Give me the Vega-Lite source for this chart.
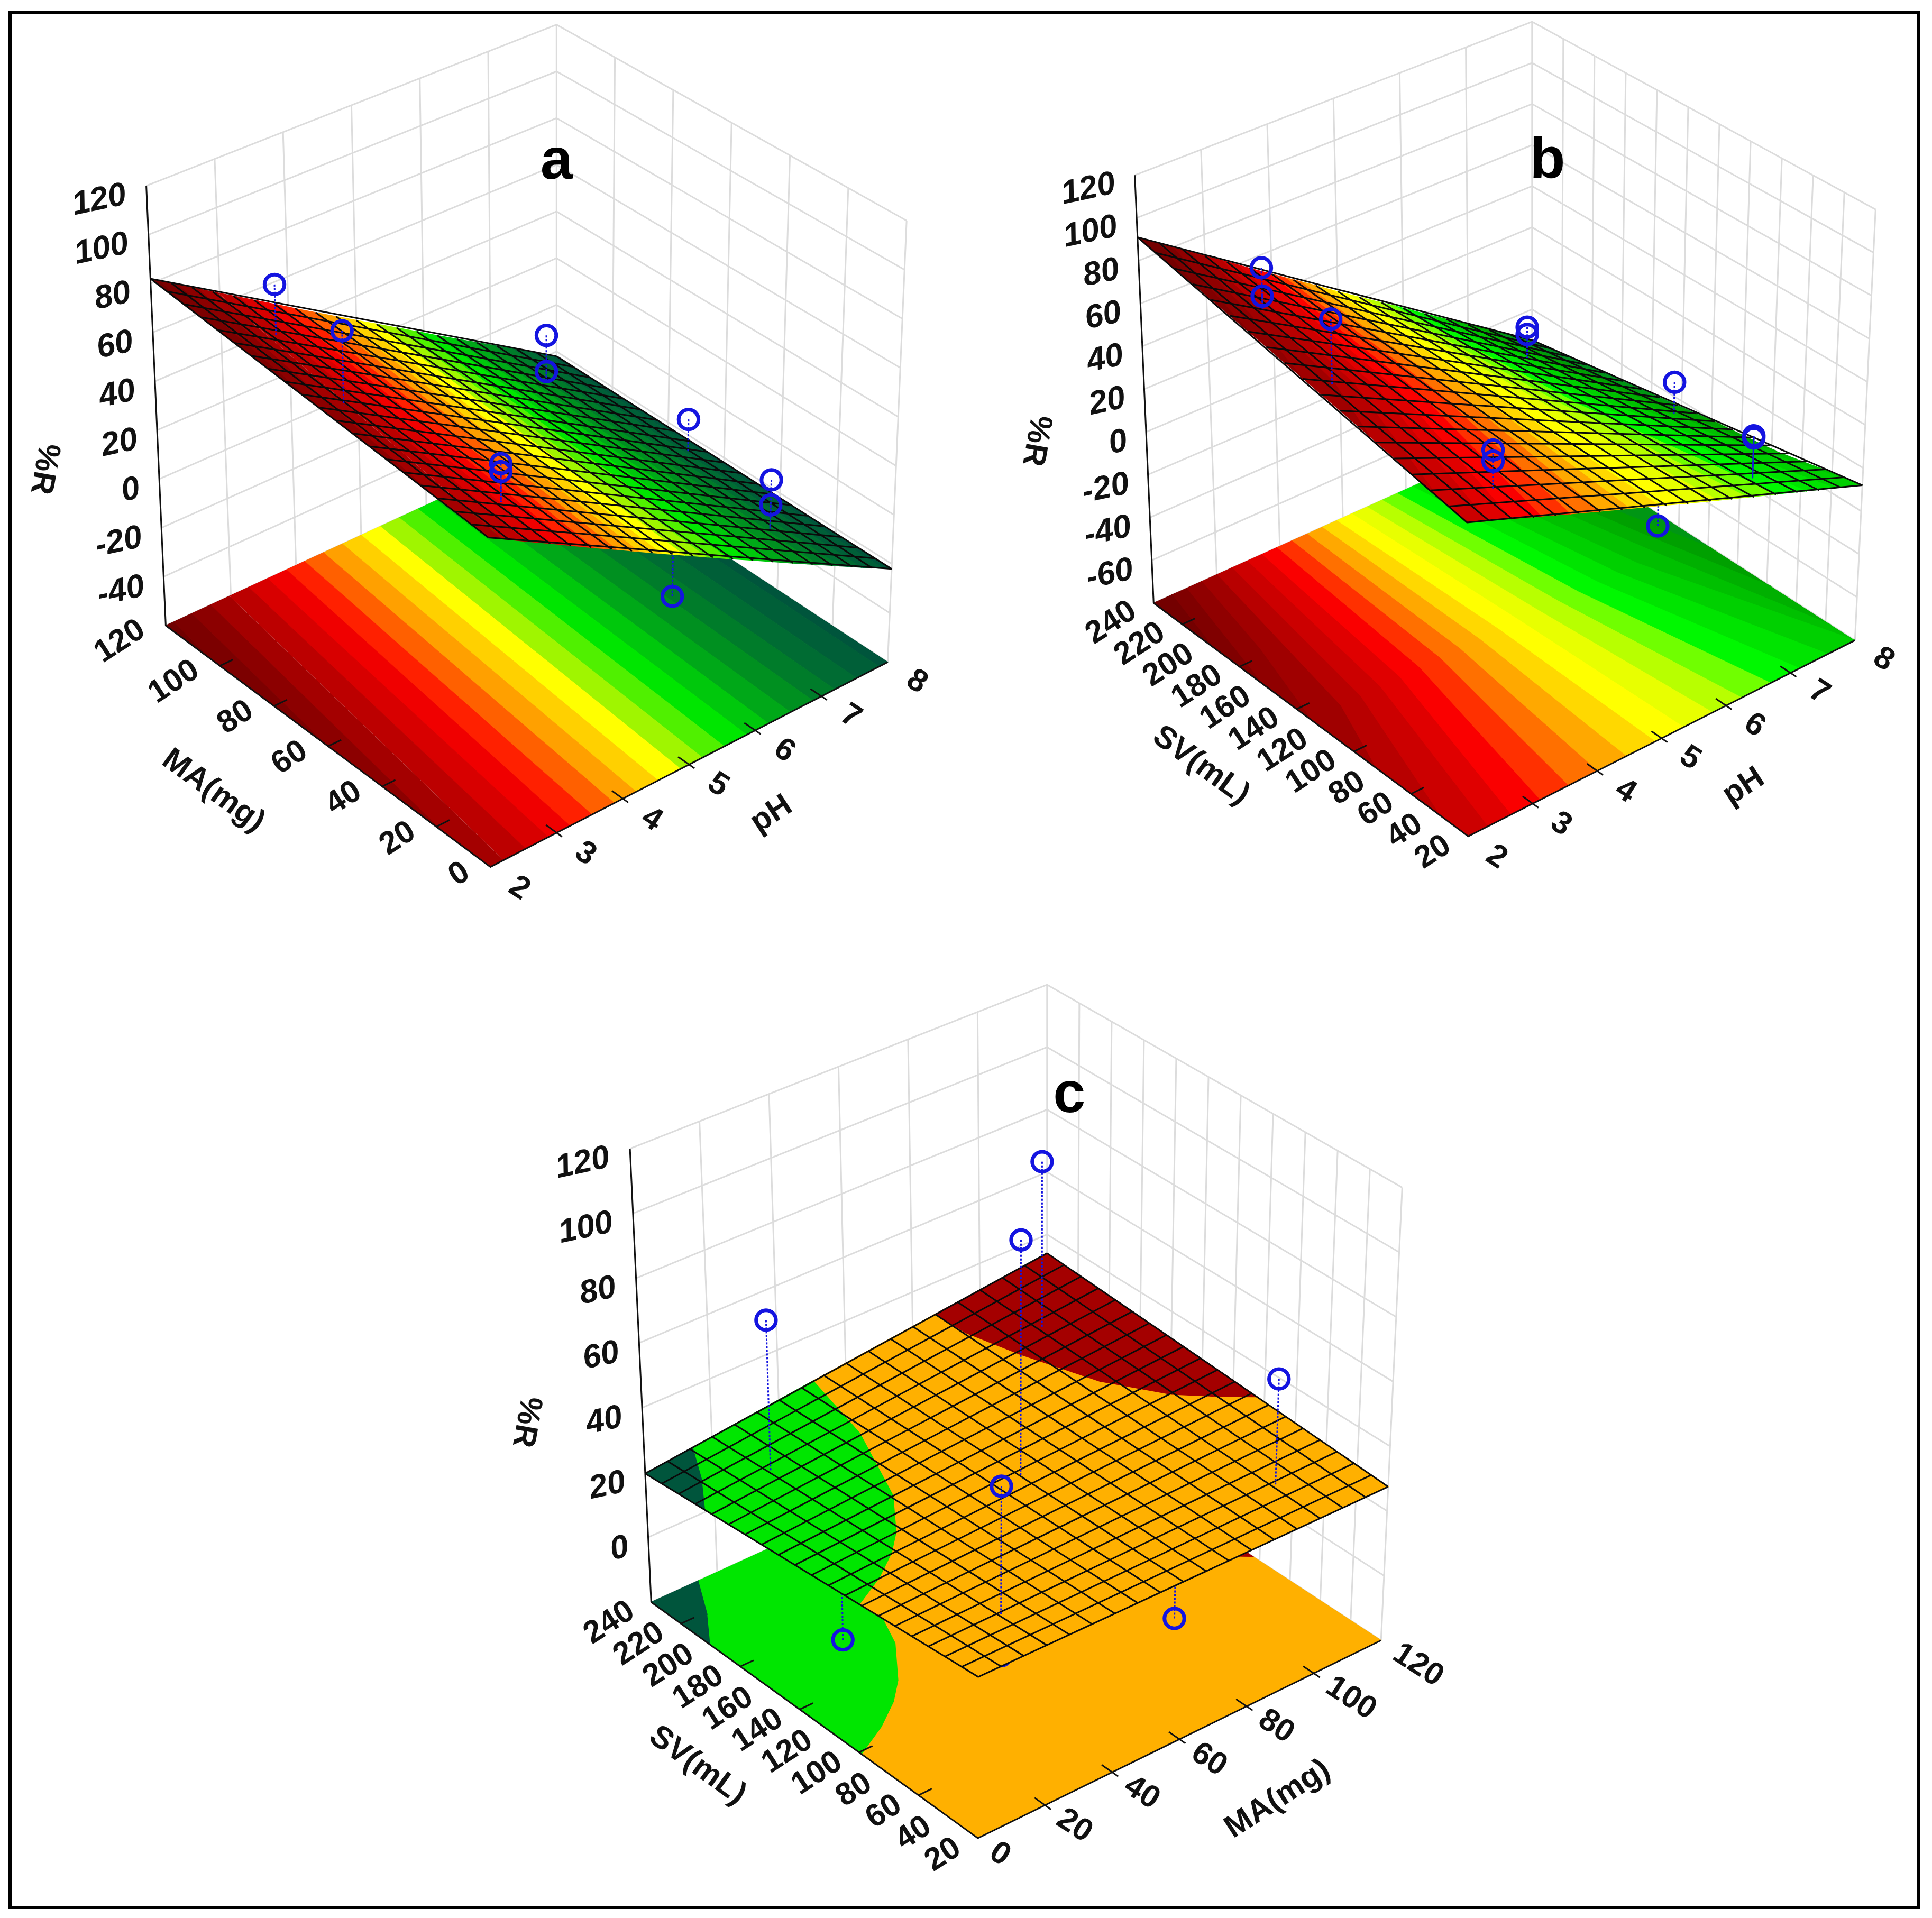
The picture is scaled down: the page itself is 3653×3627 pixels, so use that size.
{"$schema":"https://vega.github.io/schema/vega-lite/v6.json","width":3608,"height":3584,"autosize":"none","padding":{"left":19,"top":23,"right":26,"bottom":20},"background":"white","config":{"view":{"stroke":"black","strokeWidth":6}},
"params":[{"name":"box","value":{"a":{"x":[927.3,1678.4,313.4,1052.3,921.7,1714.2,276.6,1052.3],"y":[1639.4,1252.1,1183,841.4,763.3,417.3,351.4,46.7],"u":[2,8],"v":[0,120],"w":[-60,120]},"b":{"x":[2776.2,3507.3,2181.3,2896.8,2772.9,3546.3,2145.6,2896.8],"y":[1581.4,1210.8,1140.5,818,727.6,396.1,331.3,41.2],"u":[2,8],"v":[20,240],"w":[-80,120]},"c":{"x":[1848.9,2611.2,1231.3,1979.8,1851.2,2651.3,1191.1,1979.8],"y":[3476,3102,3029.7,2688.7,2604.9,2245.6,2172.1,1862.1],"u":[0,120],"v":[20,240],"w":[-20,120]}}}],
"data":{"values":[
{"t":"g","p":"a","i":0,"u":[2,8,8],"v":[120,120,0],"r":[-60,-60,-60]},{"t":"g","p":"a","i":1,"u":[2,8,8],"v":[120,120,0],"r":[-40,-40,-40]},{"t":"g","p":"a","i":2,"u":[2,8,8],"v":[120,120,0],"r":[-20,-20,-20]},{"t":"g","p":"a","i":3,"u":[2,8,8],"v":[120,120,0],"r":[0,0,0]},{"t":"g","p":"a","i":4,"u":[2,8,8],"v":[120,120,0],"r":[20,20,20]},{"t":"g","p":"a","i":5,"u":[2,8,8],"v":[120,120,0],"r":[40,40,40]},{"t":"g","p":"a","i":6,"u":[2,8,8],"v":[120,120,0],"r":[60,60,60]},{"t":"g","p":"a","i":7,"u":[2,8,8],"v":[120,120,0],"r":[80,80,80]},{"t":"g","p":"a","i":8,"u":[2,8,8],"v":[120,120,0],"r":[100,100,100]},{"t":"g","p":"a","i":9,"u":[2,8,8],"v":[120,120,0],"r":[120,120,120]},
{"t":"g","p":"a","i":10,"u":[3,3],"v":[120,120],"r":[-60,120]},{"t":"g","p":"a","i":11,"u":[4,4],"v":[120,120],"r":[-60,120]},{"t":"g","p":"a","i":12,"u":[5,5],"v":[120,120],"r":[-60,120]},{"t":"g","p":"a","i":13,"u":[6,6],"v":[120,120],"r":[-60,120]},{"t":"g","p":"a","i":14,"u":[7,7],"v":[120,120],"r":[-60,120]},{"t":"g","p":"a","i":15,"u":[8,8],"v":[120,120],"r":[-60,120]},{"t":"g","p":"a","i":16,"u":[8,8],"v":[100,100],"r":[-60,120]},{"t":"g","p":"a","i":17,"u":[8,8],"v":[80,80],"r":[-60,120]},{"t":"g","p":"a","i":18,"u":[8,8],"v":[60,60],"r":[-60,120]},{"t":"g","p":"a","i":19,"u":[8,8],"v":[40,40],"r":[-60,120]},{"t":"g","p":"a","i":20,"u":[8,8],"v":[20,20],"r":[-60,120]},{"t":"g","p":"a","i":21,"u":[8,8],"v":[0,0],"r":[-60,120]},
{"t":"g","p":"b","i":0,"u":[2,8,8],"v":[240,240,20],"r":[-80,-80,-80]},{"t":"g","p":"b","i":1,"u":[2,8,8],"v":[240,240,20],"r":[-60,-60,-60]},{"t":"g","p":"b","i":2,"u":[2,8,8],"v":[240,240,20],"r":[-40,-40,-40]},{"t":"g","p":"b","i":3,"u":[2,8,8],"v":[240,240,20],"r":[-20,-20,-20]},{"t":"g","p":"b","i":4,"u":[2,8,8],"v":[240,240,20],"r":[0,0,0]},{"t":"g","p":"b","i":5,"u":[2,8,8],"v":[240,240,20],"r":[20,20,20]},{"t":"g","p":"b","i":6,"u":[2,8,8],"v":[240,240,20],"r":[40,40,40]},{"t":"g","p":"b","i":7,"u":[2,8,8],"v":[240,240,20],"r":[60,60,60]},{"t":"g","p":"b","i":8,"u":[2,8,8],"v":[240,240,20],"r":[80,80,80]},{"t":"g","p":"b","i":9,"u":[2,8,8],"v":[240,240,20],"r":[100,100,100]},{"t":"g","p":"b","i":10,"u":[2,8,8],"v":[240,240,20],"r":[120,120,120]},
{"t":"g","p":"b","i":11,"u":[3,3],"v":[240,240],"r":[-80,120]},{"t":"g","p":"b","i":12,"u":[4,4],"v":[240,240],"r":[-80,120]},{"t":"g","p":"b","i":13,"u":[5,5],"v":[240,240],"r":[-80,120]},{"t":"g","p":"b","i":14,"u":[6,6],"v":[240,240],"r":[-80,120]},{"t":"g","p":"b","i":15,"u":[7,7],"v":[240,240],"r":[-80,120]},{"t":"g","p":"b","i":16,"u":[8,8],"v":[240,240],"r":[-80,120]},{"t":"g","p":"b","i":17,"u":[8,8],"v":[220,220],"r":[-80,120]},{"t":"g","p":"b","i":18,"u":[8,8],"v":[200,200],"r":[-80,120]},{"t":"g","p":"b","i":19,"u":[8,8],"v":[180,180],"r":[-80,120]},{"t":"g","p":"b","i":20,"u":[8,8],"v":[160,160],"r":[-80,120]},{"t":"g","p":"b","i":21,"u":[8,8],"v":[140,140],"r":[-80,120]},{"t":"g","p":"b","i":22,"u":[8,8],"v":[120,120],"r":[-80,120]},{"t":"g","p":"b","i":23,"u":[8,8],"v":[100,100],"r":[-80,120]},{"t":"g","p":"b","i":24,"u":[8,8],"v":[80,80],"r":[-80,120]},{"t":"g","p":"b","i":25,"u":[8,8],"v":[60,60],"r":[-80,120]},{"t":"g","p":"b","i":26,"u":[8,8],"v":[40,40],"r":[-80,120]},{"t":"g","p":"b","i":27,"u":[8,8],"v":[20,20],"r":[-80,120]},
{"t":"g","p":"c","i":0,"u":[0,120,120],"v":[240,240,20],"r":[-20,-20,-20]},{"t":"g","p":"c","i":1,"u":[0,120,120],"v":[240,240,20],"r":[0,0,0]},{"t":"g","p":"c","i":2,"u":[0,120,120],"v":[240,240,20],"r":[20,20,20]},{"t":"g","p":"c","i":3,"u":[0,120,120],"v":[240,240,20],"r":[40,40,40]},{"t":"g","p":"c","i":4,"u":[0,120,120],"v":[240,240,20],"r":[60,60,60]},{"t":"g","p":"c","i":5,"u":[0,120,120],"v":[240,240,20],"r":[80,80,80]},{"t":"g","p":"c","i":6,"u":[0,120,120],"v":[240,240,20],"r":[100,100,100]},{"t":"g","p":"c","i":7,"u":[0,120,120],"v":[240,240,20],"r":[120,120,120]},
{"t":"g","p":"c","i":8,"u":[20,20],"v":[240,240],"r":[-20,120]},{"t":"g","p":"c","i":9,"u":[40,40],"v":[240,240],"r":[-20,120]},{"t":"g","p":"c","i":10,"u":[60,60],"v":[240,240],"r":[-20,120]},{"t":"g","p":"c","i":11,"u":[80,80],"v":[240,240],"r":[-20,120]},{"t":"g","p":"c","i":12,"u":[100,100],"v":[240,240],"r":[-20,120]},{"t":"g","p":"c","i":13,"u":[120,120],"v":[240,240],"r":[-20,120]},{"t":"g","p":"c","i":14,"u":[120,120],"v":[220,220],"r":[-20,120]},{"t":"g","p":"c","i":15,"u":[120,120],"v":[200,200],"r":[-20,120]},{"t":"g","p":"c","i":16,"u":[120,120],"v":[180,180],"r":[-20,120]},{"t":"g","p":"c","i":17,"u":[120,120],"v":[160,160],"r":[-20,120]},{"t":"g","p":"c","i":18,"u":[120,120],"v":[140,140],"r":[-20,120]},{"t":"g","p":"c","i":19,"u":[120,120],"v":[120,120],"r":[-20,120]},{"t":"g","p":"c","i":20,"u":[120,120],"v":[100,100],"r":[-20,120]},{"t":"g","p":"c","i":21,"u":[120,120],"v":[80,80],"r":[-20,120]},{"t":"g","p":"c","i":22,"u":[120,120],"v":[60,60],"r":[-20,120]},{"t":"g","p":"c","i":23,"u":[120,120],"v":[40,40],"r":[-20,120]},{"t":"g","p":"c","i":24,"u":[120,120],"v":[20,20],"r":[-20,120]},
{"t":"a","p":"a","i":0,"u":[2,2],"v":[120,120],"r":[-60,120]},{"t":"a","p":"a","i":1,"u":[2,2,8],"v":[120,0,0],"r":[-60,-60,-60]},{"t":"a","p":"a","i":2,"u":[3,3],"v":[-2,4],"r":[-60,-60]},{"t":"a","p":"a","i":3,"u":[4,4],"v":[-2,4],"r":[-60,-60]},{"t":"a","p":"a","i":4,"u":[5,5],"v":[-2,4],"r":[-60,-60]},{"t":"a","p":"a","i":5,"u":[6,6],"v":[-2,4],"r":[-60,-60]},{"t":"a","p":"a","i":6,"u":[7,7],"v":[-2,4],"r":[-60,-60]},{"t":"a","p":"a","i":7,"u":[2,2.2],"v":[20,20],"r":[-60,-60]},{"t":"a","p":"a","i":8,"u":[2,2.2],"v":[40,40],"r":[-60,-60]},{"t":"a","p":"a","i":9,"u":[2,2.2],"v":[60,60],"r":[-60,-60]},{"t":"a","p":"a","i":10,"u":[2,2.2],"v":[80,80],"r":[-60,-60]},{"t":"a","p":"a","i":11,"u":[2,2.2],"v":[100,100],"r":[-60,-60]},
{"t":"a","p":"b","i":0,"u":[2,2],"v":[240,240],"r":[-80,120]},{"t":"a","p":"b","i":1,"u":[2,2,8],"v":[240,20,20],"r":[-80,-80,-80]},{"t":"a","p":"b","i":2,"u":[3,3],"v":[16,27],"r":[-80,-80]},{"t":"a","p":"b","i":3,"u":[4,4],"v":[16,27],"r":[-80,-80]},{"t":"a","p":"b","i":4,"u":[5,5],"v":[16,27],"r":[-80,-80]},{"t":"a","p":"b","i":5,"u":[6,6],"v":[16,27],"r":[-80,-80]},{"t":"a","p":"b","i":6,"u":[7,7],"v":[16,27],"r":[-80,-80]},{"t":"a","p":"b","i":7,"u":[2,2.2],"v":[60,60],"r":[-80,-80]},{"t":"a","p":"b","i":8,"u":[2,2.2],"v":[100,100],"r":[-80,-80]},{"t":"a","p":"b","i":9,"u":[2,2.2],"v":[140,140],"r":[-80,-80]},{"t":"a","p":"b","i":10,"u":[2,2.2],"v":[180,180],"r":[-80,-80]},{"t":"a","p":"b","i":11,"u":[2,2.2],"v":[220,220],"r":[-80,-80]},
{"t":"a","p":"c","i":0,"u":[0,0],"v":[240,240],"r":[-20,120]},{"t":"a","p":"c","i":1,"u":[0,0,120],"v":[240,20,20],"r":[-20,-20,-20]},{"t":"a","p":"c","i":2,"u":[20,20],"v":[16,27],"r":[-20,-20]},{"t":"a","p":"c","i":3,"u":[40,40],"v":[16,27],"r":[-20,-20]},{"t":"a","p":"c","i":4,"u":[60,60],"v":[16,27],"r":[-20,-20]},{"t":"a","p":"c","i":5,"u":[80,80],"v":[16,27],"r":[-20,-20]},{"t":"a","p":"c","i":6,"u":[100,100],"v":[16,27],"r":[-20,-20]},{"t":"a","p":"c","i":7,"u":[0,4],"v":[60,60],"r":[-20,-20]},{"t":"a","p":"c","i":8,"u":[0,4],"v":[100,100],"r":[-20,-20]},{"t":"a","p":"c","i":9,"u":[0,4],"v":[140,140],"r":[-20,-20]},{"t":"a","p":"c","i":10,"u":[0,4],"v":[180,180],"r":[-20,-20]},{"t":"a","p":"c","i":11,"u":[0,4],"v":[220,220],"r":[-20,-20]},
{"t":"s","p":"a","i":-25,"c":0,"u":[7.87,8,8,7.88],"v":[0,0,120,120],"r":[-20,-22,-22,-20]},{"t":"s","p":"a","i":-20,"c":1,"u":[7.53,7.87,7.88,7.6],"v":[0,0,120,120],"r":[-15,-20,-20,-15]},{"t":"s","p":"a","i":-15,"c":2,"u":[7.2,7.53,7.6,7.31],"v":[0,0,120,120],"r":[-10,-15,-15,-10]},{"t":"s","p":"a","i":-10,"c":3,"u":[6.87,7.2,7.31,7.02],"v":[0,0,120,120],"r":[-5,-10,-10,-5]},{"t":"s","p":"a","i":-5,"c":4,"u":[6.53,6.87,7.02,6.73],"v":[0,0,120,120],"r":[0,-5,-5,0]},{"t":"s","p":"a","i":0,"c":5,"u":[6.2,6.53,6.73,6.44],"v":[0,0,120,120],"r":[5,0,0,5]},{"t":"s","p":"a","i":5,"c":6,"u":[5.87,6.2,6.44,6.15],"v":[0,0,120,120],"r":[10,5,5,10]},{"t":"s","p":"a","i":10,"c":7,"u":[5.53,5.87,6.15,5.87],"v":[0,0,120,120],"r":[15,10,10,15]},{"t":"s","p":"a","i":15,"c":8,"u":[5.2,5.53,5.87,5.58],"v":[0,0,120,120],"r":[20,15,15,20]},{"t":"s","p":"a","i":20,"c":9,"u":[4.87,5.2,5.58,5.29],"v":[0,0,120,120],"r":[25,20,20,25]},{"t":"s","p":"a","i":25,"c":11,"u":[4.53,4.87,5.29,5],"v":[0,0,120,120],"r":[30,25,25,30]},{"t":"s","p":"a","i":30,"c":12,"u":[4.2,4.53,5,4.71],"v":[0,0,120,120],"r":[35,30,30,35]},{"t":"s","p":"a","i":35,"c":13,"u":[3.87,4.2,4.71,4.42],"v":[0,0,120,120],"r":[40,35,35,40]},{"t":"s","p":"a","i":40,"c":14,"u":[3.53,3.87,4.42,4.13],"v":[0,0,120,120],"r":[45,40,40,45]},{"t":"s","p":"a","i":45,"c":15,"u":[3.2,3.53,4.13,3.85],"v":[0,0,120,120],"r":[50,45,45,50]},{"t":"s","p":"a","i":50,"c":16,"u":[2.87,3.2,3.85,3.56],"v":[0,0,120,120],"r":[55,50,50,55]},{"t":"s","p":"a","i":55,"c":17,"u":[2.53,2.87,3.56,3.27],"v":[0,0,120,120],"r":[60,55,55,60]},{"t":"s","p":"a","i":60,"c":18,"u":[2.2,2.53,3.27,2.98],"v":[0,0,120,120],"r":[65,60,60,65]},{"t":"s","p":"a","i":65,"c":19,"u":[2.2,2,2,2.69,2.98],"v":[0,0,17.1,120,120],"r":[65,68,70,70,65]},{"t":"s","p":"a","i":70,"c":20,"u":[2,2,2.4,2.69],"v":[17.1,60,120,120],"r":[70,75,75,70]},{"t":"s","p":"a","i":75,"c":21,"u":[2,2,2.12,2.4],"v":[60,102.9,120,120],"r":[75,80,80,75]},{"t":"s","p":"a","i":80,"c":22,"u":[2,2,2.12],"v":[102.9,120,120],"r":[80,82,80]},
{"t":"s","p":"b","i":-35,"c":30,"u":[8,7.76,8],"v":[199.3,240,240],"r":[-30,-30,-35]},{"t":"s","p":"b","i":-30,"c":31,"u":[8,7.76,7.52,7.76,8],"v":[158.6,196,240,240,199.3],"r":[-25,-25,-25,-30,-30]},{"t":"s","p":"b","i":-25,"c":32,"u":[8,7.62,7.29,7.52,7.76,8],"v":[117.8,174,240,240,196,158.6],"r":[-20,-20,-20,-25,-25,-25]},{"t":"s","p":"b","i":-20,"c":33,"u":[8,7.54,7.05,7.29,7.62,8],"v":[77,152,240,240,174,117.8],"r":[-16.3,-16.3,-15,-20,-20,-20]},{"t":"s","p":"b","i":-15,"c":34,"u":[8,7.44,6.81,7.05,7.54,8],"v":[36.3,130,240,240,152,77],"r":[-10,-12.5,-10,-15,-16.3,-16.3]},{"t":"s","p":"b","i":-10,"c":35,"u":[8,7.12,6.57,6.81,7.44,8],"v":[20,130,240,240,130,36.3],"r":[-8,-7.3,-5,-10,-12.5,-10]},{"t":"s","p":"b","i":-5,"c":36,"u":[7.58,6.81,6.33,6.57,7.12,8],"v":[20,130,240,240,130,20],"r":[-3.35,-2.4,0,-5,-7.3,-8]},{"t":"s","p":"b","i":0,"c":37,"u":[7.14,6.5,6.1,6.33,6.81,7.58],"v":[20,130,240,240,130,20],"r":[1.65,2.6,5,0,-2.4,-3.35]},{"t":"s","p":"b","i":5,"c":38,"u":[6.69,6.19,5.86,6.1,6.5,7.14],"v":[20,130,240,240,130,20],"r":[6.65,7.6,10,5,2.6,1.65]},{"t":"s","p":"b","i":10,"c":39,"u":[6.24,5.88,5.62,5.86,6.19,6.69],"v":[20,130,240,240,130,20],"r":[11.65,12.6,15,10,7.6,6.65]},{"t":"s","p":"b","i":15,"c":40,"u":[5.79,5.57,5.38,5.62,5.88,6.24],"v":[20,130,240,240,130,20],"r":[16.65,17.6,20,15,12.6,11.65]},{"t":"s","p":"b","i":20,"c":41,"u":[5.34,5.26,5.14,5.38,5.57,5.79],"v":[20,130,240,240,130,20],"r":[21.65,22.6,25,20,17.6,16.65]},{"t":"s","p":"b","i":25,"c":11,"u":[4.9,4.95,4.9,5.14,5.26,5.34],"v":[20,130,240,240,130,20],"r":[26.65,27.6,30,25,22.6,21.65]},{"t":"s","p":"b","i":30,"c":42,"u":[4.45,4.64,4.67,4.9,4.95,4.9],"v":[20,130,240,240,130,20],"r":[31.65,32.6,35,30,27.6,26.65]},{"t":"s","p":"b","i":35,"c":43,"u":[4,4.33,4.43,4.67,4.64,4.45],"v":[20,130,240,240,130,20],"r":[36.65,37.6,40,35,32.6,31.65]},{"t":"s","p":"b","i":40,"c":44,"u":[3.55,4.02,4.19,4.43,4.33,4],"v":[20,130,240,240,130,20],"r":[41.65,42.6,45,40,37.6,36.65]},{"t":"s","p":"b","i":45,"c":45,"u":[3.11,3.7,3.95,4.19,4.02,3.55],"v":[20,130,240,240,130,20],"r":[46.65,47.6,50,45,42.6,41.65]},{"t":"s","p":"b","i":50,"c":46,"u":[2.66,3.39,3.71,3.95,3.7,3.11],"v":[20,130,240,240,130,20],"r":[51.65,52.6,55,50,47.6,46.65]},{"t":"s","p":"b","i":55,"c":47,"u":[2.3,3.08,3.48,3.71,3.39,2.66],"v":[20,130,240,240,130,20],"r":[55.65,57.6,60,55,52.6,51.65]},{"t":"s","p":"b","i":60,"c":48,"u":[2,2.77,3.24,3.48,3.08,2.3,2],"v":[40,130,240,240,130,20,20],"r":[61.9,62.6,65,60,57.6,55.65,59]},{"t":"s","p":"b","i":65,"c":49,"u":[2,2.46,3,3.24,2.77,2],"v":[85,130,240,240,130,40],"r":[68.5,67.6,70,65,62.6,61.9]},{"t":"s","p":"b","i":70,"c":50,"u":[2,2.43,2.76,3,2.46,2],"v":[130,185,240,240,130,85],"r":[75,75,75,70,67.6,68.5]},{"t":"s","p":"b","i":75,"c":51,"u":[2,2.52,2.76,2.43,2],"v":[164.4,240,240,185,130],"r":[80,80,75,75,75]},{"t":"s","p":"b","i":80,"c":52,"u":[2,2.29,2.52,2],"v":[198.8,240,240,164.4],"r":[85,85,80,80]},{"t":"s","p":"b","i":85,"c":53,"u":[2,2.05,2.29,2],"v":[233,240,240,198.8],"r":[90,90,85,85]},{"t":"s","p":"b","i":90,"c":54,"u":[2,2.05,2],"v":[240,240,233],"r":[91,90,90]},
{"t":"s","p":"c","i":0,"c":0,"u":[0,14.3,7.2,0],"v":[240,240,218,200],"r":[19.7,21.4,21.4,21.4]},{"t":"s","p":"c","i":1,"c":7,"u":[14.3,50.4,44.6,34.3,25.3,19,10.4,0,0,7.2],"v":[240,240,196,152,130,119,108,98,200,218],"r":[21.4,25.7,25.7,25.7,25.7,25.7,25.7,25.7,21.4,21.4]},{"t":"s","p":"c","i":2,"c":23,"u":[50.4,86.6,86.9,90.6,97.2,106,113.9,120,120,0,0,10.4,19,25.3,34.3,44.6],"v":[240,240,221.5,193.8,156.4,129.3,114.6,104.5,20,20,98,108,119,130,152,196],"r":[25.7,30,30,30,30,30,30,30,27.5,29,25.7,25.7,25.7,25.7,25.7,25.7]},{"t":"s","p":"c","i":3,"c":19,"u":[86.6,120,120,113.9,106,97.2,90.6,86.9],"v":[240,240,104.5,114.6,129.3,156.4,193.8,221.5],"r":[30,34,30,30,30,30,30,30]},
{"t":"m","p":"a","i":0,"u":[2,2],"v":[0,120],"r":[68,82]},{"t":"m","p":"a","i":1,"u":[2.3,2.3],"v":[0,120],"r":[63.5,76.8]},{"t":"m","p":"a","i":2,"u":[2.6,2.6],"v":[0,120],"r":[59,71.6]},{"t":"m","p":"a","i":3,"u":[2.9,2.9],"v":[0,120],"r":[54.5,66.4]},{"t":"m","p":"a","i":4,"u":[3.2,3.2],"v":[0,120],"r":[50,61.2]},{"t":"m","p":"a","i":5,"u":[3.5,3.5],"v":[0,120],"r":[45.5,56]},{"t":"m","p":"a","i":6,"u":[3.8,3.8],"v":[0,120],"r":[41,50.8]},{"t":"m","p":"a","i":7,"u":[4.1,4.1],"v":[0,120],"r":[36.5,45.6]},{"t":"m","p":"a","i":8,"u":[4.4,4.4],"v":[0,120],"r":[32,40.4]},{"t":"m","p":"a","i":9,"u":[4.7,4.7],"v":[0,120],"r":[27.5,35.2]},{"t":"m","p":"a","i":10,"u":[5,5],"v":[0,120],"r":[23,30]},{"t":"m","p":"a","i":11,"u":[5.3,5.3],"v":[0,120],"r":[18.5,24.8]},{"t":"m","p":"a","i":12,"u":[5.6,5.6],"v":[0,120],"r":[14,19.6]},{"t":"m","p":"a","i":13,"u":[5.9,5.9],"v":[0,120],"r":[9.5,14.4]},{"t":"m","p":"a","i":14,"u":[6.2,6.2],"v":[0,120],"r":[5,9.2]},{"t":"m","p":"a","i":15,"u":[6.5,6.5],"v":[0,120],"r":[0.5,4]},{"t":"m","p":"a","i":16,"u":[6.8,6.8],"v":[0,120],"r":[-4,-1.2]},{"t":"m","p":"a","i":17,"u":[7.1,7.1],"v":[0,120],"r":[-8.5,-6.4]},{"t":"m","p":"a","i":18,"u":[7.4,7.4],"v":[0,120],"r":[-13,-11.6]},{"t":"m","p":"a","i":19,"u":[7.7,7.7],"v":[0,120],"r":[-17.5,-16.8]},{"t":"m","p":"a","i":20,"u":[8,8],"v":[0,120],"r":[-22,-22]},
{"t":"m","p":"a","i":100,"u":[2,8],"v":[0,0],"r":[68,-22]},{"t":"m","p":"a","i":101,"u":[2,8],"v":[6,6],"r":[68.7,-22]},{"t":"m","p":"a","i":102,"u":[2,8],"v":[12,12],"r":[69.4,-22]},{"t":"m","p":"a","i":103,"u":[2,8],"v":[18,18],"r":[70.1,-22]},{"t":"m","p":"a","i":104,"u":[2,8],"v":[24,24],"r":[70.8,-22]},{"t":"m","p":"a","i":105,"u":[2,8],"v":[30,30],"r":[71.5,-22]},{"t":"m","p":"a","i":106,"u":[2,8],"v":[36,36],"r":[72.2,-22]},{"t":"m","p":"a","i":107,"u":[2,8],"v":[42,42],"r":[72.9,-22]},{"t":"m","p":"a","i":108,"u":[2,8],"v":[48,48],"r":[73.6,-22]},{"t":"m","p":"a","i":109,"u":[2,8],"v":[54,54],"r":[74.3,-22]},{"t":"m","p":"a","i":110,"u":[2,8],"v":[60,60],"r":[75,-22]},{"t":"m","p":"a","i":111,"u":[2,8],"v":[66,66],"r":[75.7,-22]},{"t":"m","p":"a","i":112,"u":[2,8],"v":[72,72],"r":[76.4,-22]},{"t":"m","p":"a","i":113,"u":[2,8],"v":[78,78],"r":[77.1,-22]},{"t":"m","p":"a","i":114,"u":[2,8],"v":[84,84],"r":[77.8,-22]},{"t":"m","p":"a","i":115,"u":[2,8],"v":[90,90],"r":[78.5,-22]},{"t":"m","p":"a","i":116,"u":[2,8],"v":[96,96],"r":[79.2,-22]},{"t":"m","p":"a","i":117,"u":[2,8],"v":[102,102],"r":[79.9,-22]},{"t":"m","p":"a","i":118,"u":[2,8],"v":[108,108],"r":[80.6,-22]},{"t":"m","p":"a","i":119,"u":[2,8],"v":[114,114],"r":[81.3,-22]},{"t":"m","p":"a","i":120,"u":[2,8],"v":[120,120],"r":[82,-22]},
{"t":"m","p":"b","i":0,"u":[2,2],"v":[20,240],"r":[59,91]},{"t":"m","p":"b","i":1,"u":[2.33,2.33],"v":[20,240],"r":[55.3,84]},{"t":"m","p":"b","i":2,"u":[2.67,2.67],"v":[20,240],"r":[51.6,77]},{"t":"m","p":"b","i":3,"u":[3,3],"v":[20,240],"r":[47.8,70]},{"t":"m","p":"b","i":4,"u":[3.33,3.33],"v":[20,240],"r":[44.1,63]},{"t":"m","p":"b","i":5,"u":[3.67,3.67],"v":[20,240],"r":[40.4,56]},{"t":"m","p":"b","i":6,"u":[4,4],"v":[20,240],"r":[36.7,49]},{"t":"m","p":"b","i":7,"u":[4.33,4.33],"v":[20,240],"r":[32.9,42]},{"t":"m","p":"b","i":8,"u":[4.67,4.67],"v":[20,240],"r":[29.2,35]},{"t":"m","p":"b","i":9,"u":[5,5],"v":[20,240],"r":[25.5,28]},{"t":"m","p":"b","i":10,"u":[5.33,5.33],"v":[20,240],"r":[21.8,21]},{"t":"m","p":"b","i":11,"u":[5.67,5.67],"v":[20,240],"r":[18.1,14]},{"t":"m","p":"b","i":12,"u":[6,6],"v":[20,240],"r":[14.3,7]},{"t":"m","p":"b","i":13,"u":[6.33,6.33],"v":[20,240],"r":[10.6,0]},{"t":"m","p":"b","i":14,"u":[6.67,6.67],"v":[20,240],"r":[6.9,-7]},{"t":"m","p":"b","i":15,"u":[7,7],"v":[20,240],"r":[3.2,-14]},{"t":"m","p":"b","i":16,"u":[7.33,7.33],"v":[20,240],"r":[-0.6,-21]},{"t":"m","p":"b","i":17,"u":[7.67,7.67],"v":[20,240],"r":[-4.3,-28]},{"t":"m","p":"b","i":18,"u":[8,8],"v":[20,240],"r":[-8,-35]},
{"t":"m","p":"b","i":100,"u":[2,8],"v":[20,20],"r":[59,-8]},{"t":"m","p":"b","i":101,"u":[2,8],"v":[32.2,32.2],"r":[60.8,-9.5]},{"t":"m","p":"b","i":102,"u":[2,8],"v":[44.4,44.4],"r":[62.6,-11]},{"t":"m","p":"b","i":103,"u":[2,8],"v":[56.7,56.7],"r":[64.3,-12.5]},{"t":"m","p":"b","i":104,"u":[2,8],"v":[68.9,68.9],"r":[66.1,-14]},{"t":"m","p":"b","i":105,"u":[2,8],"v":[81.1,81.1],"r":[67.9,-15.5]},{"t":"m","p":"b","i":106,"u":[2,8],"v":[93.3,93.3],"r":[69.7,-17]},{"t":"m","p":"b","i":107,"u":[2,8],"v":[105.6,105.6],"r":[71.4,-18.5]},{"t":"m","p":"b","i":108,"u":[2,8],"v":[117.8,117.8],"r":[73.2,-20]},{"t":"m","p":"b","i":109,"u":[2,8],"v":[130,130],"r":[75,-21.5]},{"t":"m","p":"b","i":110,"u":[2,8],"v":[142.2,142.2],"r":[76.8,-23]},{"t":"m","p":"b","i":111,"u":[2,8],"v":[154.4,154.4],"r":[78.6,-24.5]},{"t":"m","p":"b","i":112,"u":[2,8],"v":[166.7,166.7],"r":[80.3,-26]},{"t":"m","p":"b","i":113,"u":[2,8],"v":[178.9,178.9],"r":[82.1,-27.5]},{"t":"m","p":"b","i":114,"u":[2,8],"v":[191.1,191.1],"r":[83.9,-29]},{"t":"m","p":"b","i":115,"u":[2,8],"v":[203.3,203.3],"r":[85.7,-30.5]},{"t":"m","p":"b","i":116,"u":[2,8],"v":[215.6,215.6],"r":[87.4,-32]},{"t":"m","p":"b","i":117,"u":[2,8],"v":[227.8,227.8],"r":[89.2,-33.5]},{"t":"m","p":"b","i":118,"u":[2,8],"v":[240,240],"r":[91,-35]},
{"t":"m","p":"c","i":0,"u":[0,0],"v":[20,240],"r":[29,19.7]},{"t":"m","p":"c","i":1,"u":[6.67,6.67],"v":[20,240],"r":[28.9,20.5]},{"t":"m","p":"c","i":2,"u":[13.33,13.33],"v":[20,240],"r":[28.8,21.3]},{"t":"m","p":"c","i":3,"u":[20,20],"v":[20,240],"r":[28.8,22.1]},{"t":"m","p":"c","i":4,"u":[26.67,26.67],"v":[20,240],"r":[28.7,22.9]},{"t":"m","p":"c","i":5,"u":[33.33,33.33],"v":[20,240],"r":[28.6,23.7]},{"t":"m","p":"c","i":6,"u":[40,40],"v":[20,240],"r":[28.5,24.5]},{"t":"m","p":"c","i":7,"u":[46.67,46.67],"v":[20,240],"r":[28.4,25.3]},{"t":"m","p":"c","i":8,"u":[53.33,53.33],"v":[20,240],"r":[28.3,26.1]},{"t":"m","p":"c","i":9,"u":[60,60],"v":[20,240],"r":[28.3,26.9]},{"t":"m","p":"c","i":10,"u":[66.67,66.67],"v":[20,240],"r":[28.2,27.6]},{"t":"m","p":"c","i":11,"u":[73.33,73.33],"v":[20,240],"r":[28.1,28.4]},{"t":"m","p":"c","i":12,"u":[80,80],"v":[20,240],"r":[28,29.2]},{"t":"m","p":"c","i":13,"u":[86.67,86.67],"v":[20,240],"r":[27.9,30]},{"t":"m","p":"c","i":14,"u":[93.33,93.33],"v":[20,240],"r":[27.8,30.8]},{"t":"m","p":"c","i":15,"u":[100,100],"v":[20,240],"r":[27.8,31.6]},{"t":"m","p":"c","i":16,"u":[106.67,106.67],"v":[20,240],"r":[27.7,32.4]},{"t":"m","p":"c","i":17,"u":[113.33,113.33],"v":[20,240],"r":[27.6,33.2]},{"t":"m","p":"c","i":18,"u":[120,120],"v":[20,240],"r":[27.5,34]},
{"t":"m","p":"c","i":100,"u":[0,120],"v":[20,20],"r":[29,27.5]},{"t":"m","p":"c","i":101,"u":[0,120],"v":[31,31],"r":[28.5,27.8]},{"t":"m","p":"c","i":102,"u":[0,120],"v":[42,42],"r":[28.1,28.2]},{"t":"m","p":"c","i":103,"u":[0,120],"v":[53,53],"r":[27.6,28.5]},{"t":"m","p":"c","i":104,"u":[0,120],"v":[64,64],"r":[27.1,28.8]},{"t":"m","p":"c","i":105,"u":[0,120],"v":[75,75],"r":[26.7,29.1]},{"t":"m","p":"c","i":106,"u":[0,120],"v":[86,86],"r":[26.2,29.5]},{"t":"m","p":"c","i":107,"u":[0,120],"v":[97,97],"r":[25.7,29.8]},{"t":"m","p":"c","i":108,"u":[0,120],"v":[108,108],"r":[25.3,30.1]},{"t":"m","p":"c","i":109,"u":[0,120],"v":[119,119],"r":[24.8,30.4]},{"t":"m","p":"c","i":110,"u":[0,120],"v":[130,130],"r":[24.4,30.8]},{"t":"m","p":"c","i":111,"u":[0,120],"v":[141,141],"r":[23.9,31.1]},{"t":"m","p":"c","i":112,"u":[0,120],"v":[152,152],"r":[23.4,31.4]},{"t":"m","p":"c","i":113,"u":[0,120],"v":[163,163],"r":[23,31.7]},{"t":"m","p":"c","i":114,"u":[0,120],"v":[174,174],"r":[22.5,32.1]},{"t":"m","p":"c","i":115,"u":[0,120],"v":[185,185],"r":[22,32.4]},{"t":"m","p":"c","i":116,"u":[0,120],"v":[196,196],"r":[21.6,32.7]},{"t":"m","p":"c","i":117,"u":[0,120],"v":[207,207],"r":[21.1,33]},{"t":"m","p":"c","i":118,"u":[0,120],"v":[218,218],"r":[20.6,33.4]},{"t":"m","p":"c","i":119,"u":[0,120],"v":[229,229],"r":[20.2,33.7]},{"t":"m","p":"c","i":120,"u":[0,120],"v":[240,240],"r":[19.7,34]},
{"t":"d","p":"a","u":[3],"v":[100],"r":[83.3],"s":62.7},{"t":"d","p":"a","u":[2.47],"v":[63],"r":[98],"s":68.2},{"t":"d","p":"a","u":[7],"v":[100],"r":[14.4],"s":-5},{"t":"d","p":"a","u":[7],"v":[100],"r":[-0.8],"s":-5},{"t":"d","p":"a","u":[7.62],"v":[64],"r":[-2],"s":-15.8},{"t":"d","p":"a","u":[7],"v":[20],"r":[13.2],"s":-6.6},{"t":"d","p":"a","u":[7],"v":[20],"r":[3],"s":-6.6},{"t":"d","p":"a","u":[3],"v":[20],"r":[70.2],"s":55},{"t":"d","p":"a","u":[3],"v":[20],"r":[67],"s":55},{"t":"d","p":"a","u":[4.79],"v":[2],"r":[8.2],"s":27},
{"t":"d","p":"b","u":[2.85],"v":[195],"r":[86.5],"s":67.5},{"t":"d","p":"b","u":[2.85],"v":[195],"r":[73.3],"s":67.5},{"t":"d","p":"b","u":[2.38],"v":[127.6],"r":[98.5],"s":68.5},{"t":"d","p":"b","u":[6.9],"v":[196],"r":[5.7],"s":-9},{"t":"d","p":"b","u":[6.9],"v":[196],"r":[2.2],"s":-9},{"t":"d","p":"b","u":[7.6],"v":[128],"r":[-0.3],"s":-15.5},{"t":"d","p":"b","u":[6.77],"v":[40],"r":[24],"s":4.4},{"t":"d","p":"b","u":[6.77],"v":[40],"r":[23],"s":4.4},{"t":"d","p":"b","u":[2.9],"v":[43],"r":[69.3],"s":51.5},{"t":"d","p":"b","u":[2.9],"v":[43],"r":[64.3],"s":51.5},{"t":"d","p":"b","u":[5.01],"v":[26],"r":[13.5],"s":25.6},
{"t":"d","p":"c","u":[101],"v":[202],"r":[83.5],"s":31},{"t":"d","p":"c","u":[60.4],"v":[126.8],"r":[100.5],"s":27.6},{"t":"d","p":"c","u":[20.6],"v":[202.6],"r":[70],"s":23.3},{"t":"d","p":"c","u":[101],"v":[51],"r":[61],"s":28.3},{"t":"d","p":"c","u":[20.4],"v":[50.8],"r":[67.3],"s":27.8},{"t":"d","p":"c","u":[59],"v":[23],"r":[16.6],"s":28.3},{"t":"d","p":"c","u":[1],"v":[112],"r":[10],"s":25},{"t":"d","p":"c","u":[20.4],"v":[50.8],"r":[15.5],"s":27.8},
{"t":"ul","p":"a","l":"2","u":[2],"v":[-8],"r":[-60]},{"t":"ul","p":"a","l":"3","u":[3],"v":[-8],"r":[-60]},{"t":"ul","p":"a","l":"4","u":[4],"v":[-8],"r":[-60]},{"t":"ul","p":"a","l":"5","u":[5],"v":[-8],"r":[-60]},{"t":"ul","p":"a","l":"6","u":[6],"v":[-8],"r":[-60]},{"t":"ul","p":"a","l":"7","u":[7],"v":[-8],"r":[-60]},{"t":"ul","p":"a","l":"8","u":[8],"v":[-8],"r":[-60]},
{"t":"ul","p":"b","l":"2","u":[2],"v":[5.3],"r":[-80]},{"t":"ul","p":"b","l":"3","u":[3],"v":[5.3],"r":[-80]},{"t":"ul","p":"b","l":"4","u":[4],"v":[5.3],"r":[-80]},{"t":"ul","p":"b","l":"5","u":[5],"v":[5.3],"r":[-80]},{"t":"ul","p":"b","l":"6","u":[6],"v":[5.3],"r":[-80]},{"t":"ul","p":"b","l":"7","u":[7],"v":[5.3],"r":[-80]},{"t":"ul","p":"b","l":"8","u":[8],"v":[5.3],"r":[-80]},
{"t":"ul","p":"c","l":"0","u":[0],"v":[10],"r":[-20]},{"t":"ul","p":"c","l":"20","u":[20],"v":[10],"r":[-20]},{"t":"ul","p":"c","l":"40","u":[40],"v":[10],"r":[-20]},{"t":"ul","p":"c","l":"60","u":[60],"v":[10],"r":[-20]},{"t":"ul","p":"c","l":"80","u":[80],"v":[10],"r":[-20]},{"t":"ul","p":"c","l":"100","u":[100],"v":[10],"r":[-20]},{"t":"ul","p":"c","l":"120","u":[120],"v":[10],"r":[-20]},
{"t":"vl","p":"a","l":"0","u":[1.64],"v":[0],"r":[-56]},{"t":"vl","p":"a","l":"20","u":[1.64],"v":[20],"r":[-56]},{"t":"vl","p":"a","l":"40","u":[1.64],"v":[40],"r":[-56]},{"t":"vl","p":"a","l":"60","u":[1.64],"v":[60],"r":[-56]},{"t":"vl","p":"a","l":"80","u":[1.64],"v":[80],"r":[-56]},{"t":"vl","p":"a","l":"100","u":[1.64],"v":[100],"r":[-56]},{"t":"vl","p":"a","l":"120","u":[1.64],"v":[120],"r":[-56]},
{"t":"vl","p":"b","l":"20","u":[1.68],"v":[20],"r":[-78]},{"t":"vl","p":"b","l":"40","u":[1.68],"v":[40],"r":[-78]},{"t":"vl","p":"b","l":"60","u":[1.68],"v":[60],"r":[-78]},{"t":"vl","p":"b","l":"80","u":[1.68],"v":[80],"r":[-78]},{"t":"vl","p":"b","l":"100","u":[1.68],"v":[100],"r":[-78]},{"t":"vl","p":"b","l":"120","u":[1.68],"v":[120],"r":[-78]},{"t":"vl","p":"b","l":"140","u":[1.68],"v":[140],"r":[-78]},{"t":"vl","p":"b","l":"160","u":[1.68],"v":[160],"r":[-78]},{"t":"vl","p":"b","l":"180","u":[1.68],"v":[180],"r":[-78]},{"t":"vl","p":"b","l":"200","u":[1.68],"v":[200],"r":[-78]},{"t":"vl","p":"b","l":"220","u":[1.68],"v":[220],"r":[-78]},{"t":"vl","p":"b","l":"240","u":[1.68],"v":[240],"r":[-78]},
{"t":"vl","p":"c","l":"20","u":[-6],"v":[20],"r":[-19]},{"t":"vl","p":"c","l":"40","u":[-6],"v":[40],"r":[-19]},{"t":"vl","p":"c","l":"60","u":[-6],"v":[60],"r":[-19]},{"t":"vl","p":"c","l":"80","u":[-6],"v":[80],"r":[-19]},{"t":"vl","p":"c","l":"100","u":[-6],"v":[100],"r":[-19]},{"t":"vl","p":"c","l":"120","u":[-6],"v":[120],"r":[-19]},{"t":"vl","p":"c","l":"140","u":[-6],"v":[140],"r":[-19]},{"t":"vl","p":"c","l":"160","u":[-6],"v":[160],"r":[-19]},{"t":"vl","p":"c","l":"180","u":[-6],"v":[180],"r":[-19]},{"t":"vl","p":"c","l":"200","u":[-6],"v":[200],"r":[-19]},{"t":"vl","p":"c","l":"220","u":[-6],"v":[220],"r":[-19]},{"t":"vl","p":"c","l":"240","u":[-6],"v":[240],"r":[-19]},
{"t":"zl","p":"a","l":"-40","u":[1.7],"v":[120],"r":[-40]},{"t":"zl","p":"a","l":"-20","u":[1.7],"v":[120],"r":[-20]},{"t":"zl","p":"a","l":"0","u":[1.7],"v":[120],"r":[0]},{"t":"zl","p":"a","l":"20","u":[1.7],"v":[120],"r":[20]},{"t":"zl","p":"a","l":"40","u":[1.7],"v":[120],"r":[40]},{"t":"zl","p":"a","l":"60","u":[1.7],"v":[120],"r":[60]},{"t":"zl","p":"a","l":"80","u":[1.7],"v":[120],"r":[80]},{"t":"zl","p":"a","l":"100","u":[1.7],"v":[120],"r":[100]},{"t":"zl","p":"a","l":"120","u":[1.7],"v":[120],"r":[120]},
{"t":"zl","p":"b","l":"-60","u":[1.7],"v":[240],"r":[-60]},{"t":"zl","p":"b","l":"-40","u":[1.7],"v":[240],"r":[-40]},{"t":"zl","p":"b","l":"-20","u":[1.7],"v":[240],"r":[-20]},{"t":"zl","p":"b","l":"0","u":[1.7],"v":[240],"r":[0]},{"t":"zl","p":"b","l":"20","u":[1.7],"v":[240],"r":[20]},{"t":"zl","p":"b","l":"40","u":[1.7],"v":[240],"r":[40]},{"t":"zl","p":"b","l":"60","u":[1.7],"v":[240],"r":[60]},{"t":"zl","p":"b","l":"80","u":[1.7],"v":[240],"r":[80]},{"t":"zl","p":"b","l":"100","u":[1.7],"v":[240],"r":[100]},{"t":"zl","p":"b","l":"120","u":[1.7],"v":[240],"r":[120]},
{"t":"zl","p":"c","l":"0","u":[-6],"v":[240],"r":[0]},{"t":"zl","p":"c","l":"20","u":[-6],"v":[240],"r":[20]},{"t":"zl","p":"c","l":"40","u":[-6],"v":[240],"r":[40]},{"t":"zl","p":"c","l":"60","u":[-6],"v":[240],"r":[60]},{"t":"zl","p":"c","l":"80","u":[-6],"v":[240],"r":[80]},{"t":"zl","p":"c","l":"100","u":[-6],"v":[240],"r":[100]},{"t":"zl","p":"c","l":"120","u":[-6],"v":[240],"r":[120]},
{"t":"ut","p":"a","l":"pH","u":[5.1],"v":[-27.6],"r":[-60]},{"t":"ut","p":"b","l":"pH","u":[5.11],"v":[-31.5],"r":[-80]},{"t":"ut","p":"c","l":"MA(mg)","u":[62],"v":[-40.8],"r":[-20]},
{"t":"vt","p":"a","l":"MA(mg)","u":[0.4],"v":[63.5],"r":[-60]},{"t":"vt","p":"b","l":"SV(mL)","u":[0.37],"v":[134],"r":[-80]},{"t":"vt","p":"c","l":"SV(mL)","u":[-32.5],"v":[135.7],"r":[-20]},
{"t":"zt","p":"a","l":"%R","u":[0.32],"v":[120],"r":[23.8]},{"t":"zt","p":"b","l":"%R","u":[0.33],"v":[240],"r":[17]},{"t":"zt","p":"c","l":"%R","u":[-33.6],"v":[240],"r":[50.5]},
{"t":"n","p":"a","l":"a","u":[8],"v":[120],"r":[61.5]},{"t":"n","p":"b","l":"b","u":[8],"v":[230],"r":[57]},{"t":"n","p":"c","l":"c","u":[120],"v":[226],"r":[89]}
]},
"transform":[{"flatten":["u","v","r"]},{"window":[{"op":"row_number","as":"o"}]},{"calculate":"box[datum.p]","as":"B"},
{"calculate":"(datum.u-datum.B.u[0])/(datum.B.u[1]-datum.B.u[0])","as":"na"},{"calculate":"(datum.v-datum.B.v[0])/(datum.B.v[1]-datum.B.v[0])","as":"nb"},{"calculate":"(datum.r-datum.B.w[0])/(datum.B.w[1]-datum.B.w[0])","as":"nc"},{"calculate":"(datum.s-datum.B.w[0])/(datum.B.w[1]-datum.B.w[0])","as":"ns"},
{"calculate":"(1-datum.na)*(1-datum.nb)*datum.B.x[0]+datum.na*(1-datum.nb)*datum.B.x[1]+(1-datum.na)*datum.nb*datum.B.x[2]+datum.na*datum.nb*datum.B.x[3]","as":"fx"},
{"calculate":"(1-datum.na)*(1-datum.nb)*datum.B.y[0]+datum.na*(1-datum.nb)*datum.B.y[1]+(1-datum.na)*datum.nb*datum.B.y[2]+datum.na*datum.nb*datum.B.y[3]","as":"fy"},
{"calculate":"(1-datum.na)*(1-datum.nb)*datum.B.x[4]+datum.na*(1-datum.nb)*datum.B.x[5]+(1-datum.na)*datum.nb*datum.B.x[6]+datum.na*datum.nb*datum.B.x[7]","as":"tx"},
{"calculate":"(1-datum.na)*(1-datum.nb)*datum.B.y[4]+datum.na*(1-datum.nb)*datum.B.y[5]+(1-datum.na)*datum.nb*datum.B.y[6]+datum.na*datum.nb*datum.B.y[7]","as":"ty"},
{"calculate":"datum.fx+(datum.tx-datum.fx)*datum.nc","as":"px"},{"calculate":"datum.fy+(datum.ty-datum.fy)*datum.nc","as":"py"},{"calculate":"datum.fx+(datum.tx-datum.fx)*datum.ns","as":"sx"},{"calculate":"datum.fy+(datum.ty-datum.fy)*datum.ns","as":"sy"}],
"encoding":{"x":{"field":"px","type":"quantitative","axis":null,"scale":{"domain":[19,3627],"nice":false,"zero":false}},"y":{"field":"py","type":"quantitative","axis":null,"scale":{"domain":[3607,23],"nice":false,"zero":false}}},
"layer":[
{"transform":[{"filter":"datum.t==='g'"}],"mark":{"type":"line","stroke":"#dcdcdc","strokeWidth":3},"encoding":{"detail":[{"field":"p"},{"field":"i"}],"order":{"field":"o","type":"quantitative"}}},
{"transform":[{"filter":"datum.t==='s'"}],"mark":{"type":"line","strokeWidth":1.5},"encoding":{"x":{"field":"fx","type":"quantitative"},"y":{"field":"fy","type":"quantitative"},"detail":[{"field":"p"},{"field":"i"}],"order":{"field":"o","type":"quantitative"},"fill":{"field":"c","type":"ordinal","legend":null,"scale":{"domain":[0,1,2,3,4,5,6,7,8,9,11,12,13,14,15,16,17,18,19,20,21,22,23,30,31,32,33,34,35,36,37,38,39,40,41,42,43,44,45,46,47,48,49,50,51,52,53,54],"range":["#00553c","#005f38","#006c33","#007c2a","#009020","#00a818","#00c80c","#00e600","#50f000","#a0f500","#ffff00","#ffd000","#ffa000","#ff6000","#ff2000","#f00000","#d80000","#bc0000","#a40000","#8c0000","#7c0000","#700000","#ffb000","#008426","#008c20","#009614","#00a000","#00b000","#00c000","#00d000","#00e400","#00f800","#70ff00","#b8ff00","#e8ff00","#ffd800","#ffa800","#ff7000","#ff3000","#fa0000","#e00000","#cc0000","#b80000","#a00000","#900000","#800000","#740000","#6c0000"]}},"stroke":{"field":"c","type":"ordinal","legend":null,"scale":{"domain":[0,1,2,3,4,5,6,7,8,9,11,12,13,14,15,16,17,18,19,20,21,22,23,30,31,32,33,34,35,36,37,38,39,40,41,42,43,44,45,46,47,48,49,50,51,52,53,54],"range":["#00553c","#005f38","#006c33","#007c2a","#009020","#00a818","#00c80c","#00e600","#50f000","#a0f500","#ffff00","#ffd000","#ffa000","#ff6000","#ff2000","#f00000","#d80000","#bc0000","#a40000","#8c0000","#7c0000","#700000","#ffb000","#008426","#008c20","#009614","#00a000","#00b000","#00c000","#00d000","#00e400","#00f800","#70ff00","#b8ff00","#e8ff00","#ffd800","#ffa800","#ff7000","#ff3000","#fa0000","#e00000","#cc0000","#b80000","#a00000","#900000","#800000","#740000","#6c0000"]}}}},
{"transform":[{"filter":"datum.t==='a'"}],"mark":{"type":"line","stroke":"#111111","strokeWidth":3},"encoding":{"detail":[{"field":"p"},{"field":"i"}],"order":{"field":"o","type":"quantitative"}}},
{"transform":[{"filter":"datum.t==='d'&&datum.r<datum.s"}],"mark":{"type":"rule","stroke":"#1414e0","strokeWidth":3,"strokeDash":[4,3]},"encoding":{"x2":{"field":"sx"},"y2":{"field":"sy"}}},
{"transform":[{"filter":"datum.t==='d'&&datum.r<datum.s"}],"mark":{"type":"point","shape":"circle","filled":false,"stroke":"#1414e0","strokeWidth":7,"size":1400,"opacity":1}},
{"transform":[{"filter":"datum.t==='s'"}],"mark":{"type":"line","strokeWidth":1.5},"encoding":{"detail":[{"field":"p"},{"field":"i"}],"order":{"field":"o","type":"quantitative"},"fill":{"field":"c","type":"ordinal","legend":null,"scale":{"domain":[0,1,2,3,4,5,6,7,8,9,11,12,13,14,15,16,17,18,19,20,21,22,23,30,31,32,33,34,35,36,37,38,39,40,41,42,43,44,45,46,47,48,49,50,51,52,53,54],"range":["#00553c","#005f38","#006c33","#007c2a","#009020","#00a818","#00c80c","#00e600","#50f000","#a0f500","#ffff00","#ffd000","#ffa000","#ff6000","#ff2000","#f00000","#d80000","#bc0000","#a40000","#8c0000","#7c0000","#700000","#ffb000","#008426","#008c20","#009614","#00a000","#00b000","#00c000","#00d000","#00e400","#00f800","#70ff00","#b8ff00","#e8ff00","#ffd800","#ffa800","#ff7000","#ff3000","#fa0000","#e00000","#cc0000","#b80000","#a00000","#900000","#800000","#740000","#6c0000"]}},"stroke":{"field":"c","type":"ordinal","legend":null,"scale":{"domain":[0,1,2,3,4,5,6,7,8,9,11,12,13,14,15,16,17,18,19,20,21,22,23,30,31,32,33,34,35,36,37,38,39,40,41,42,43,44,45,46,47,48,49,50,51,52,53,54],"range":["#00553c","#005f38","#006c33","#007c2a","#009020","#00a818","#00c80c","#00e600","#50f000","#a0f500","#ffff00","#ffd000","#ffa000","#ff6000","#ff2000","#f00000","#d80000","#bc0000","#a40000","#8c0000","#7c0000","#700000","#ffb000","#008426","#008c20","#009614","#00a000","#00b000","#00c000","#00d000","#00e400","#00f800","#70ff00","#b8ff00","#e8ff00","#ffd800","#ffa800","#ff7000","#ff3000","#fa0000","#e00000","#cc0000","#b80000","#a00000","#900000","#800000","#740000","#6c0000"]}}}},
{"transform":[{"filter":"datum.t==='m'"}],"mark":{"type":"line","stroke":"#0a0a0a","strokeWidth":3},"encoding":{"detail":[{"field":"p"},{"field":"i"}],"order":{"field":"o","type":"quantitative"}}},
{"transform":[{"filter":"datum.t==='d'&&datum.r>=datum.s"}],"mark":{"type":"rule","stroke":"#1414e0","strokeWidth":3,"strokeDash":[4,3]},"encoding":{"x2":{"field":"sx"},"y2":{"field":"sy"}}},
{"transform":[{"filter":"datum.t==='d'&&datum.r>=datum.s"}],"mark":{"type":"point","shape":"circle","filled":false,"stroke":"#1414e0","strokeWidth":7,"size":1400,"opacity":1}},
{"transform":[{"filter":"datum.t==='ul'"}],"mark":{"type":"text","font":"Liberation Sans","fontWeight":"bold","fontSize":60,"angle":33,"align":"left","baseline":"middle","fill":"#111111"},"encoding":{"text":{"field":"l"}}},
{"transform":[{"filter":"datum.t==='vl'"}],"mark":{"type":"text","font":"Liberation Sans","fontWeight":"bold","fontSize":60,"angle":-33,"align":"right","baseline":"middle","fill":"#111111"},"encoding":{"text":{"field":"l"}}},
{"transform":[{"filter":"datum.t==='zl'"}],"mark":{"type":"text","font":"Liberation Sans","fontWeight":"bold","fontStyle":"italic","fontSize":62,"angle":-12,"align":"right","baseline":"middle","fill":"#111111"},"encoding":{"text":{"field":"l"}}},
{"transform":[{"filter":"datum.t==='ut'"}],"mark":{"type":"text","font":"Liberation Sans","fontWeight":"bold","fontSize":60,"angle":-33,"align":"center","baseline":"middle","fill":"#111111"},"encoding":{"text":{"field":"l"}}},
{"transform":[{"filter":"datum.t==='vt'"}],"mark":{"type":"text","font":"Liberation Sans","fontWeight":"bold","fontSize":60,"angle":36,"align":"center","baseline":"middle","fill":"#111111"},"encoding":{"text":{"field":"l"}}},
{"transform":[{"filter":"datum.t==='zt'"}],"mark":{"type":"text","font":"Liberation Sans","fontWeight":"bold","fontSize":60,"angle":100,"align":"center","baseline":"middle","fill":"#111111"},"encoding":{"text":{"field":"l"}}},
{"transform":[{"filter":"datum.t==='n'"}],"mark":{"type":"text","font":"Liberation Sans","fontWeight":"bold","fontSize":110,"align":"center","baseline":"middle","fill":"#000000"},"encoding":{"text":{"field":"l"}}}
]}
